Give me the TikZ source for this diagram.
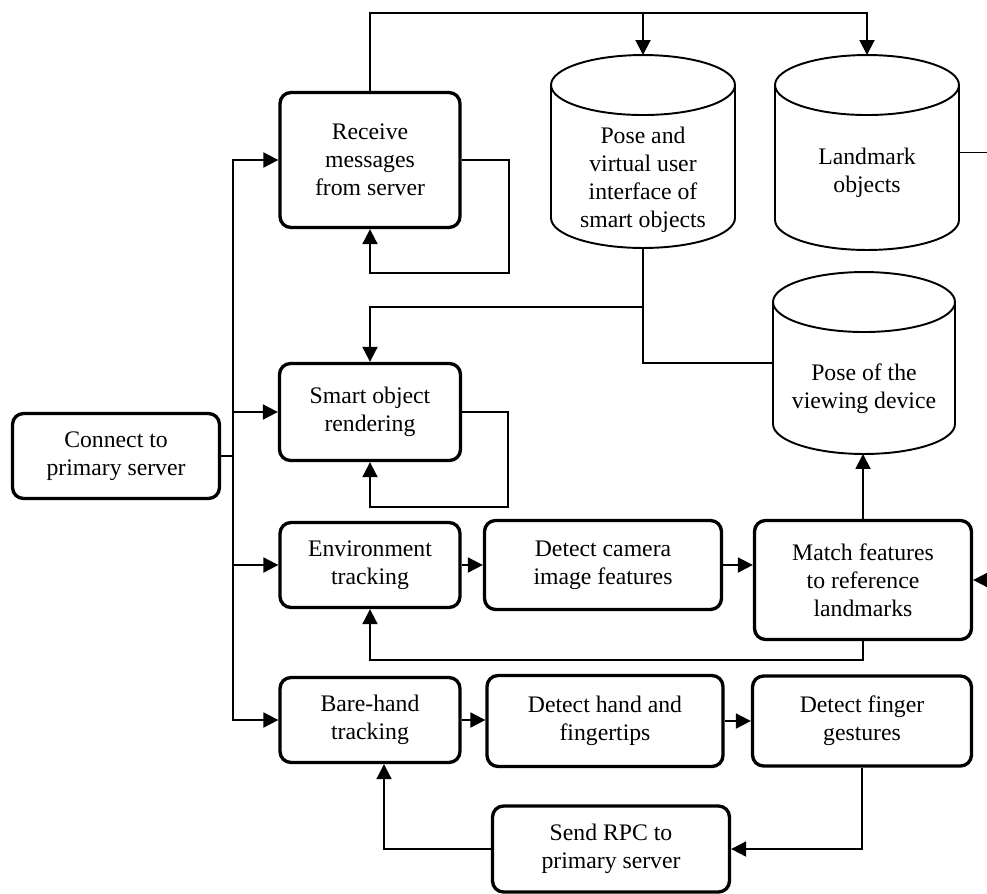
\documentclass[tikz,border=0pt]{standalone}
\usepackage{fontspec}
\setmainfont{Liberation Serif}
\usetikzlibrary{arrows.meta,calc}

\begin{document}
\begin{tikzpicture}[
  x=0.02cm, y=-0.02cm,
  font=\fontsize{13.5}{16}\selectfont,
  >={Triangle[length=0.3cm,width=0.3cm]},
  proc/.style={rectangle, rounded corners=0.22cm, draw, line width=1.9pt,
               align=center, inner sep=0pt},
  db/.style={rectangle, inner sep=0pt, outer sep=0pt},
  dbtext/.style={align=center},
  dbline/.style={line width=1.1pt},
  flow/.style={->, line width=1.1pt},
  link/.style={line width=1.1pt},
]
\useasboundingbox (0,0) rectangle (987,893);

\node[proc, minimum width=4.14cm, minimum height=1.7cm]  (connect)   at (116,456) {Connect to\\primary server};
\node[proc, minimum width=3.6cm,  minimum height=2.7cm]  (receive)   at (370,160) {Receive\\messages\\from server};
\node[proc, minimum width=3.62cm, minimum height=1.94cm] (render)    at (370,412) {Smart object\\rendering};
\node[proc, minimum width=3.6cm,  minimum height=1.7cm]  (envtrack)  at (370,565) {Environment\\tracking};
\node[proc, minimum width=4.74cm, minimum height=1.78cm] (camfeat)   at (603,565) {Detect camera\\image features};
\node[proc, minimum width=4.34cm, minimum height=2.38cm] (match)     at (863,580) {Match features\\to reference\\landmarks};
\node[proc, minimum width=3.6cm,  minimum height=1.7cm]  (handtrack) at (370,720) {Bare-hand\\tracking};
\node[proc, minimum width=4.72cm, minimum height=1.82cm] (handtips)  at (605,721) {Detect hand and\\fingertips};
\node[proc, minimum width=4.38cm, minimum height=1.8cm]  (gesture)   at (862,721) {Detect finger\\gestures};
\node[proc, minimum width=4.74cm, minimum height=1.72cm] (rpc)       at (611,849) {Send RPC to\\primary server};

% data stores
\node[db, minimum width=3.68cm, minimum height=3.86cm,
      label={[dbtext, yshift=-0.57cm]center:Pose and\\virtual user\\interface of\\smart objects}] (poseui) at (643,151.5) {};
\node[db, minimum width=3.68cm, minimum height=3.9cm,
      label={[dbtext, yshift=-0.4cm]center:Landmark\\objects}] (landmarks) at (867,152.5) {};
\node[db, minimum width=3.64cm, minimum height=3.64cm,
      label={[dbtext, yshift=-0.52cm]center:Pose of the\\viewing device}] (posedev) at (864,363) {};

\foreach \n/\r in {poseui/1.84cm, landmarks/1.84cm, posedev/1.82cm}{
  \draw[dbline] ($(\n.north west)+(0,30)$)
      arc[start angle=180, end angle=540, x radius=\r, y radius=0.6cm]
      -- ($(\n.south west)+(0,-30)$)
      arc[start angle=180, end angle=360, x radius=\r, y radius=0.6cm]
      -- ($(\n.north east)+(0,30)$);
}

\coordinate (bus)   at (233,456);
\coordinate (top)   at (867,13);
\coordinate (junc)  at (643,307);
\coordinate (redge) at (1000,580);

\draw[link] (connect.east) -- (bus);
\draw[flow] (bus) |- (receive.west);
\draw[flow] (bus) |- (render.west);
\draw[flow] (bus) |- (envtrack.west);
\draw[flow] (bus) |- (handtrack.west);

\draw[flow] (receive.east) -- ++(47,0) -- ++(0,113) -| (receive.south);
\draw[flow] (render.east) -- ++(46,0) -- ++(0,95) -| (render.south);

\draw[flow] (receive.north) |- (top) -- (landmarks.north);
\draw[flow] (poseui.north |- top) -- (poseui.north);

\draw[flow] (poseui.south) -- (junc) -| (render.north);
\draw[link] (posedev.west) -| (junc);

\draw[flow] (landmarks.east) -| (redge) -- (match.east);
\draw[flow] (match.north) -- (match.north |- posedev.south);

\draw[flow] (envtrack.east) -- (envtrack.east -| camfeat.west);
\draw[flow] (camfeat.east) -- (camfeat.east -| match.west);
\draw[flow] (match.south) -- ++(0,19) -| (envtrack.south);

\draw[flow] (handtrack.east) -- (handtrack.east -| handtips.west);
\draw[flow] (handtips.east) -- (handtips.east -| gesture.west);
\draw[flow] (gesture.south) |- (rpc.east);
\draw[flow] (rpc.west) -| ($(handtrack.south)+(14,0)$);

\end{tikzpicture}
\end{document}
